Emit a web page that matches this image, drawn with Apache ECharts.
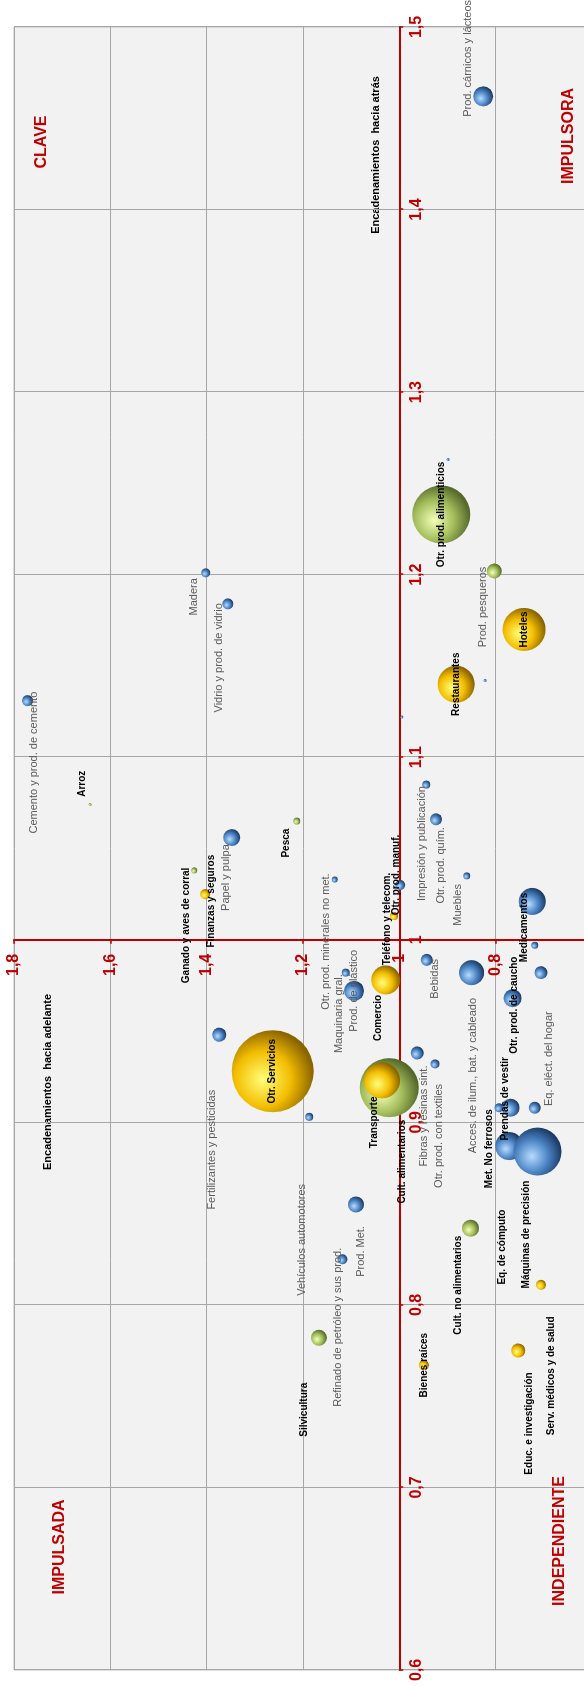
<!DOCTYPE html>
<html>
<head>
<meta charset="utf-8">
<script src="https://cdn.jsdelivr.net/npm/echarts@6/dist/echarts.min.js"></script>
<style>
  html, body { margin: 0; padding: 0; background: #ffffff; width: 584px; height: 1686px; overflow: hidden; }
  /* the chart is laid out landscape and turned a quarter turn counter-clockwise */
  #chart { position: absolute; left: 0; top: 0; width: 1686px; height: 600px;
           transform-origin: 0 0; transform: translateY(1686px) rotate(-90deg); }
</style>
</head>
<body>
<div id="chart"></div>
<script>
// Sectores: encadenamientos hacia atrás / hacia adelante y peso de cada sector
const sectores = [
  'Prod. cárnicos y lácteos', 'Otr. prod. alimenticios', 'Prod. pesqueros', 'Hoteles', 'Restaurantes',
  'Madera', 'Vidrio y prod. de vidrio', 'Cemento y prod. de cemento', 'Arroz', 'Impresión y publicación',
  'Otr. prod. quím.', 'Muebles', 'Pesca', 'Papel y pulpa', 'Ganado y aves de corral',
  'Finanzas y seguros', 'Otr. prod. minerales no met.', 'Teléfono y telecom.', 'Otr. prod. manuf.', 'Medicamentos',
  'Comercio', 'Bebidas', 'Maquinaria gral.', 'Prod. de plástico', 'Otr. Servicios',
  'Fertilizantes y pesticidas', 'Acces. de ilum., bat. y cableado', 'Otr. prod. de caucho', 'Eq. eléct. del hogar', 'Fibras y resinas sint.',
  'Otr. prod. con textiles', 'Transporte', 'Cult. alimentarios', 'Vehículos automotores', 'Prod. Met.',
  'Refinado de petróleo y sus prod.', 'Met. No ferrosos', 'Prendas de vestir', 'Eq. de cómputo', 'Máquinas de precisión',
  'Cult. no alimentarios', 'Bienes raíces', 'Silvicultura', 'Educ. e investigación', 'Serv. médicos y de salud',
  '', '', '', '', ''
];
const atras = [
  1.462, 1.233, 1.202, 1.170, 1.140,
  1.201, 1.184, 1.131, 1.074, 1.085,
  1.066, 1.035, 1.065, 1.056, 1.038,
  1.025, 1.033, 1.013, 1.030, 1.021,
  0.978, 0.989, 0.982, 0.972, 0.928,
  0.948, 0.982, 0.968, 0.982, 0.938,
  0.932, 0.923, 0.919, 0.903, 0.855,
  0.825, 0.908, 0.908, 0.887, 0.884,
  0.842, 0.767, 0.782, 0.775, 0.811,
  1.263, 1.142, 1.122, 0.997, 0.908
];
const adelante = [
  0.826, 0.913, 0.803, 0.741, 0.882,
  1.402, 1.356, 1.772, 1.642, 0.944,
  0.924, 0.860, 1.213, 1.348, 1.426,
  1.403, 1.134, 1.011, 0.998, 0.724,
  1.028, 0.943, 1.111, 1.094, 1.263,
  1.374, 0.850, 0.765, 0.706, 0.963,
  0.926, 1.036, 1.021, 1.187, 1.090,
  1.118, 0.793, 0.769, 0.772, 0.713,
  0.852, 0.949, 1.167, 0.753, 0.706,
  0.899, 0.822, 0.995, 0.719, 0.719
];
const peso = [
  4.0, 33.6, 2.25, 18.5, 13.7,
  0.81, 1.21, 1.21, 0.09, 0.64,
  1.44, 0.49, 0.49, 2.89, 0.36,
  1.0, 0.36, 0.64, 1.0, 7.29,
  8.4, 1.44, 0.64, 4.0, 67.2,
  1.96, 6.25, 3.24, 1.69, 1.69,
  0.81, 13.0, 34.8, 0.64, 2.56,
  1.0, 0.81, 3.24, 7.84, 23.0,
  2.89, 1.0, 2.56, 1.96, 1.0,
  0.09, 0.09, 0.09, 0.49, 1.44
];
const tipo = [
  'manuf', 'agro', 'agro', 'serv', 'serv',
  'manuf', 'manuf', 'manuf', 'agro', 'manuf',
  'manuf', 'manuf', 'agro', 'manuf', 'agro',
  'serv', 'manuf', 'serv', 'manuf', 'manuf',
  'serv', 'manuf', 'manuf', 'manuf', 'serv',
  'manuf', 'manuf', 'manuf', 'manuf', 'manuf',
  'manuf', 'serv', 'agro', 'manuf', 'manuf',
  'manuf', 'manuf', 'manuf', 'manuf', 'manuf',
  'agro', 'serv', 'agro', 'serv', 'serv',
  'manuf', 'manuf', 'manuf', 'manuf', 'manuf'
];
// Sectores con etiqueta en negrita
const destacados = [
  'Otr. prod. alimenticios', 'Hoteles', 'Restaurantes', 'Arroz', 'Pesca', 'Ganado y aves de corral',
  'Finanzas y seguros', 'Teléfono y telecom.', 'Otr. prod. manuf.', 'Medicamentos', 'Comercio',
  'Otr. Servicios', 'Otr. prod. de caucho', 'Transporte', 'Cult. alimentarios', 'Met. No ferrosos',
  'Prendas de vestir', 'Eq. de cómputo', 'Máquinas de precisión', 'Cult. no alimentarios',
  'Bienes raíces', 'Silvicultura', 'Educ. e investigación', 'Serv. médicos y de salud'
];
// Ejes
const ejeAtras = [0.6, 0.7, 0.8, 0.9, 1.0, 1.1, 1.2, 1.3, 1.4, 1.5];
const ejeAdelante = [0.6, 0.8, 1.0, 1.2, 1.4, 1.6, 1.8];
const cruce = { atras: 1.0, adelante: 1.0 };
const cuadrantes = ['CLAVE', 'IMPULSORA', 'IMPULSADA', 'INDEPENDIENTE'];
const tituloAtras = 'Encadenamientos  hacia atrás';
const tituloAdelante = 'Encadenamientos  hacia adelante';

// ---- rendering ----
const W = 1686, H = 600;
const grid = { left: 16, right: 27, top: 14, bottom: 8 };
const gridW = W - grid.left - grid.right;
const gridH = H - grid.top - grid.bottom;
const FONT = '"Liberation Sans", Arial, Helvetica, sans-serif';
const RED = '#c00000';

// label placement around each bubble (label centre relative to bubble centre)
const labelOffset = {
  'Prod. cárnicos y lácteos': [38, -15], 'Prod. pesqueros': [-36, -11], 'Madera': [-24, -12],
  'Vidrio y prod. de vidrio': [-54, -9], 'Cemento y prod. de cemento': [-62, 6], 'Arroz': [21, -8],
  'Impresión y publicación': [-59, -4], 'Otr. prod. quím.': [-46, 5], 'Muebles': [-29, -9],
  'Pesca': [-22, -10], 'Papel y pulpa': [-40, -6], 'Ganado y aves de corral': [-55, -8],
  'Finanzas y seguros': [-7, 6], 'Otr. prod. minerales no met.': [-62, -9], 'Teléfono y telecom.': [-3, -7],
  'Otr. prod. manuf.': [10, -4], 'Medicamentos': [-26, -8], 'Comercio': [-38, -8], 'Bebidas': [-19, 8],
  'Maquinaria gral.': [-41, -7], 'Fertilizantes y pesticidas': [-115, -7],
  'Acces. de ilum., bat. y cableado': [-103, 1], 'Otr. prod. de caucho': [-7, 2],
  'Eq. eléct. del hogar': [-86, 8], 'Fibras y resinas sint.': [-63, 7], 'Otr. prod. con textiles': [-72, 4],
  'Transporte': [-42, -8], 'Cult. alimentarios': [-74, 13], 'Vehículos automotores': [-123, -7],
  'Prod. Met.': [-47, 5], 'Refinado de petróleo y sus prod.': [-68, -5], 'Met. No ferrosos': [-41, -10],
  'Prendas de vestir': [9, -5], 'Eq. de cómputo': [-101, -7], 'Máquinas de precisión': [-83, -11],
  'Cult. no alimentarios': [-57, -12], 'Silvicultura': [-72, -15], 'Educ. e investigación': [-73, 11],
  'Serv. médicos y de salud': [-91, 10]
};

function sphere(light, base, dark) {
  return new echarts.graphic.RadialGradient(0.4, 0.38, 0.62, [
    { offset: 0, color: light },
    { offset: 0.55, color: base },
    { offset: 1, color: dark }
  ]);
}
const palette = {
  agro:  sphere('#f4ffb8', '#a3bd5c', '#55692a'),
  manuf: sphere('#b6dcff', '#4b84c4', '#1d3b66'),
  serv:  sphere('#ffff7a', '#f3bd00', '#8a6400')
};

function items(kind) {
  const out = [];
  sectores.forEach((name, i) => {
    if (tipo[i] !== kind) return;
    const bold = destacados.indexOf(name) >= 0;
    out.push({
      name: name,
      value: [atras[i], adelante[i], peso[i]],
      label: {
        show: name !== '',
        position: 'inside',
        offset: labelOffset[name] || [0, 0],
        fontSize: bold ? 10 : 11,
        fontWeight: bold ? 'bold' : 'normal',
        color: bold ? '#000000' : '#595959'
      }
    });
  });
  return out;
}

function series(kind) {
  return {
    type: 'scatter',
    data: items(kind),
    symbolSize: v => Math.sqrt(v[2]) * 10,
    itemStyle: { color: palette[kind], opacity: 1 },
    label: { formatter: '{b}', fontFamily: FONT, align: 'center', verticalAlign: 'middle' },
    emphasis: { disabled: true },
    clip: false
  };
}

const fmt = v => String(+(+v).toFixed(1)).replace('.', ',');
const xMin = ejeAtras[0], xMax = ejeAtras[ejeAtras.length - 1];
const yMin = ejeAdelante[0], yMax = ejeAdelante[ejeAdelante.length - 1];
const xAxisOffset = -((cruce.adelante - yMin) / (yMax - yMin)) * gridH;
const yAxisOffset = -((cruce.atras - xMin) / (xMax - xMin)) * gridW;

const chart = echarts.init(document.getElementById('chart'), null, { renderer: 'canvas', width: W, height: H });
chart.setOption({
  animation: false,
  backgroundColor: '#ffffff',
  grid: Object.assign({ show: true, backgroundColor: '#f2f2f2', borderColor: '#bfbfbf', borderWidth: 1,
                        containLabel: false, outerBoundsMode: 'none' }, grid),
  xAxis: {
    type: 'value', min: xMin, max: xMax, interval: 0.1, position: 'bottom', offset: xAxisOffset,
    axisLine: { show: true, onZero: false, lineStyle: { color: RED, width: 2 } },
    axisTick: { show: true, length: 4, lineStyle: { color: RED, width: 1.5 } },
    axisLabel: { color: RED, fontWeight: 'bold', fontSize: 16, fontFamily: FONT, margin: 9, formatter: fmt,
                 showMinLabel: true, showMaxLabel: true },
    splitLine: { show: true, lineStyle: { color: '#a6a6a6', width: 1 } }
  },
  yAxis: {
    type: 'value', min: yMin, max: yMax, interval: 0.2, position: 'left', offset: yAxisOffset,
    axisLine: { show: true, onZero: false, lineStyle: { color: RED, width: 2 } },
    axisTick: { show: true, length: 4, lineStyle: { color: RED, width: 1.5 } },
    axisLabel: { color: RED, fontWeight: 'bold', fontSize: 16, fontFamily: FONT, margin: 14, formatter: fmt,
                 showMinLabel: true, showMaxLabel: true },
    splitLine: { show: true, lineStyle: { color: '#a6a6a6', width: 1 } }
  },
  graphic: [
    { type: 'text', x: 1531, y: 376, style: { text: tituloAtras, font: 'bold 11px ' + FONT, fill: '#000', align: 'center', verticalAlign: 'middle' } },
    { type: 'text', x: 604, y: 48, style: { text: tituloAdelante, font: 'bold 11px ' + FONT, fill: '#000', align: 'center', verticalAlign: 'middle' } },
    { type: 'text', x: 1544, y: 42, style: { text: cuadrantes[0], font: 'bold 16px ' + FONT, fill: RED, align: 'center', verticalAlign: 'middle' } },
    { type: 'text', x: 1550, y: 569, style: { text: cuadrantes[1], font: 'bold 16px ' + FONT, fill: RED, align: 'center', verticalAlign: 'middle' } },
    { type: 'text', x: 139, y: 60, style: { text: cuadrantes[2], font: 'bold 16px ' + FONT, fill: RED, align: 'center', verticalAlign: 'middle' } },
    { type: 'text', x: 145, y: 560, style: { text: cuadrantes[3], font: 'bold 16px ' + FONT, fill: RED, align: 'center', verticalAlign: 'middle' } }
  ],
  series: [series('agro'), series('manuf'), series('serv')]
});
</script>
</body>
</html>
